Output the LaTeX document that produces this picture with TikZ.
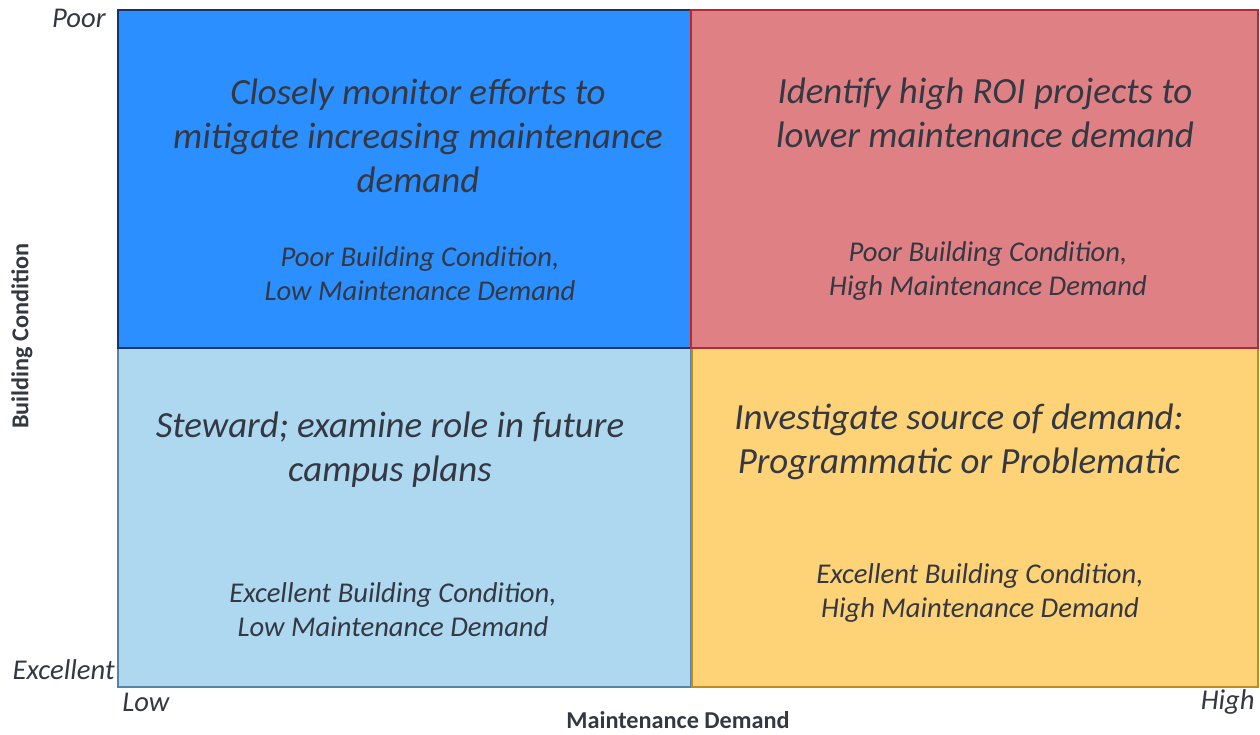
\documentclass[tikz,border=0pt]{standalone}
\usepackage{fontspec}
\setmainfont{Carlito}
\usetikzlibrary{positioning}
\definecolor{deepsky}{RGB}{43,143,255}
\definecolor{deepskyline}{RGB}{22,52,104}
\definecolor{rose}{RGB}{223,129,132}
\definecolor{roseline}{RGB}{178,42,52}
\definecolor{pale}{RGB}{173,216,240}
\definecolor{paleline}{RGB}{86,132,165}
\definecolor{sand}{RGB}{254,210,118}
\definecolor{sandline}{RGB}{192,140,32}
\definecolor{ink}{RGB}{52,56,66}
\tikzset{
  quad/.style={fill=#1,line width=1.4pt,draw=#1line},
  quad/.default=deepsky,
  advice/.style={text=ink,align=center,font=\fontsize{21}{25}\selectfont\itshape},
  case/.style={text=ink,align=center,font=\fontsize{16.3}{19.5}\selectfont\itshape},
  scale label/.style={text=ink,font=\fontsize{16.3}{18}\selectfont\itshape,inner sep=0pt},
  axis title/.style={text=ink,font=\fontsize{13.8}{15}\selectfont\bfseries},
}

\begin{document}
\begin{tikzpicture}[x=0.02cm,y=-0.02cm]
  \useasboundingbox (0,0) rectangle (1260,734);
  % the four quadrants
  \draw[quad=pale] (118,348) rectangle (691,687);
  \draw[quad=sand] (692,348) rectangle (1258,687);
  \draw[quad=deepsky] (118,10) rectangle (691,348);
  \draw[quad=rose] (691,10) rectangle (1258,348);

  % upper left
  \node[advice] (ulmain) at (418,136) {Closely monitor efforts to\\mitigate increasing maintenance\\demand};
  \node[case] (ulcase) at (420,274) {Poor Building Condition,\\Low Maintenance Demand};
  % upper right
  \node[advice] (urmain) at (985,113) {Identify high ROI projects to\\lower maintenance demand};
  \node[case] (urcase) at (988,271) {Poor Building Condition,\\High Maintenance Demand};
  % lower left
  \node[advice] (llmain) at (390,450) {Steward; examine role in future\\campus plans};
  \node[case] (llcase) at (393,610) {Excellent Building Condition,\\Low Maintenance Demand};
  % lower right
  \node[advice] (lrmain) at (959,442) {Investigate source of demand:\\Programmatic or Problematic};
  \node[case] (lrcase) at (980,593) {Excellent Building Condition,\\High Maintenance Demand};

  % axes
  \node[scale label,anchor=east] (poor) at (106,18) {Poor};
  \node[scale label,anchor=east] (excellent) at (115,670) {Excellent};
  \node[scale label,anchor=west] (low) at (122,702) {Low};
  \node[scale label,anchor=east] (high) at (1255,702) {High};
  \node[axis title] (xtitle) at (678,720) {Maintenance Demand};
  \node[axis title,rotate=90] (ytitle) at (22,336) {Building Condition};
\end{tikzpicture}
\end{document}
